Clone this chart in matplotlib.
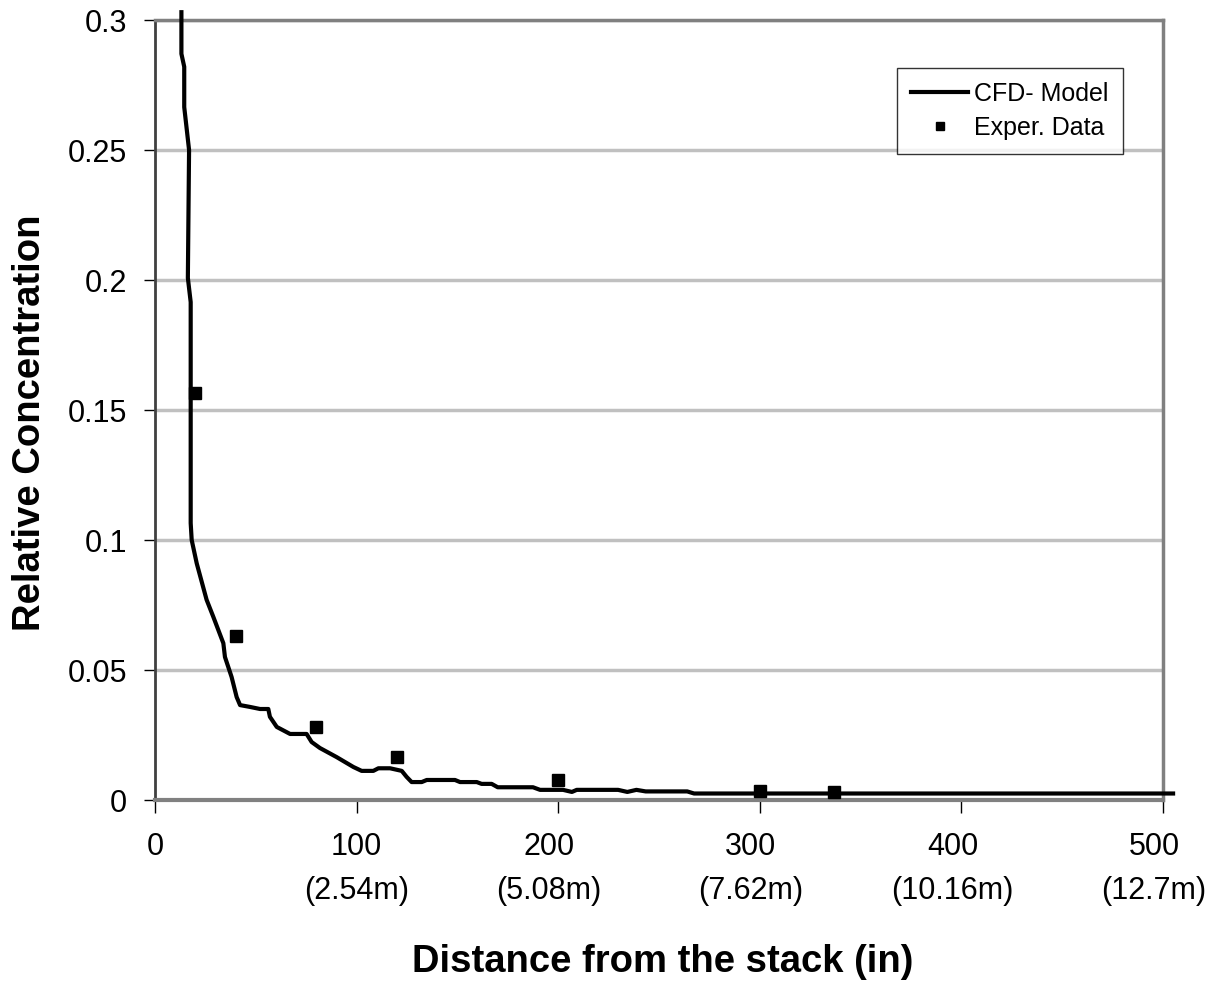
import matplotlib
matplotlib.use("Agg")
import matplotlib.pyplot as plt
from matplotlib.transforms import ScaledTranslation

plt.rcParams["font.family"] = ["Liberation Sans", "DejaVu Sans"]

# CFD model curve
cfd_x = [13.1, 13.1, 14.5, 14.5, 16.9, 16.3, 17.7, 17.7, 18.2, 20.7, 25.6, 28.9,
         33.9, 34.7, 38.0, 40.5, 42.2, 47.1, 52.1, 56.2, 57.0, 60.4, 67.0, 75.2,
         77.7, 81.8, 90.1, 98.4, 102.5, 108.3, 110.8, 116.6, 122.4, 124.8, 127.3,
         132.3, 134.8, 148.8, 151.3, 159.6, 162.0, 167.0, 170.0, 187.5, 191.0,
         202.4, 206.8, 209.2, 229.7, 234.3, 238.8, 243.4, 264.0, 267.4, 505.0]
cfd_y = [0.303, 0.287, 0.282, 0.2665, 0.250, 0.2008, 0.1915, 0.1065, 0.100, 0.091,
         0.077, 0.0705, 0.0603, 0.055, 0.0473, 0.0396, 0.0365, 0.0358, 0.035, 0.035,
         0.032, 0.0281, 0.0254, 0.0254, 0.0223, 0.020, 0.0165, 0.0127, 0.0112,
         0.0112, 0.0122, 0.0122, 0.0112, 0.0089, 0.0069, 0.0069, 0.0077, 0.0077,
         0.0069, 0.0069, 0.0062, 0.0062, 0.0049, 0.0049, 0.0039, 0.0039, 0.0031,
         0.0039, 0.0039, 0.0031, 0.0039, 0.0033, 0.0033, 0.0025, 0.0025]

# experimental points
exp_x = [20, 40, 80, 120, 200, 300, 337]
exp_y = [0.1565, 0.063, 0.028, 0.0165, 0.0077, 0.0035, 0.003]

x_ticks = [0, 100, 200, 300, 400, 500]
x_tick_labels = ["0", "100\n(2.54m)", "200\n(5.08m)", "300\n(7.62m)",
                 "400\n(10.16m)", "500\n(12.7m)"]
y_ticks = [0, 0.05, 0.1, 0.15, 0.2, 0.25, 0.3]
y_tick_labels = ["0", "0.05", "0.1", "0.15", "0.2", "0.25", "0.3"]

fig = plt.figure(figsize=(12.2, 9.92), dpi=100)
ax = fig.add_axes([155 / 1220, 192 / 992, 1008 / 1220, 780 / 992])

ax.set_xlim(0, 500)
ax.set_ylim(0, 0.3)
for yv in y_ticks[1:]:
    ax.axhline(yv, color="#c0c0c0", lw=2.5, zorder=1)

ax.plot(cfd_x, cfd_y, color="black", lw=3, label="CFD- Model", zorder=3,
        clip_on=False)
ax.plot(exp_x, exp_y, ls="none", marker="s", ms=8, color="black",
        label="Exper. Data", zorder=4)

ax.set_xticks(x_ticks)
ax.set_xticklabels(x_tick_labels, fontsize=22, linespacing=1.6, va="top")
ax.set_yticks(y_ticks)
ax.set_yticklabels(y_tick_labels, fontsize=22)
ax.tick_params(axis="x", direction="out", length=9, width=1, pad=14)
ax.tick_params(axis="y", direction="out", length=8, width=1, pad=12)

# labels from 200 on sit a little left of their ticks in the original
shift = ScaledTranslation(-9 / 100, 0, fig.dpi_scale_trans)
for lab in ax.get_xticklabels()[2:]:
    lab.set_transform(lab.get_transform() + shift)

ax.spines["top"].set_color("#808080")
ax.spines["top"].set_linewidth(2.5)
ax.spines["right"].set_color("#808080")
ax.spines["right"].set_linewidth(2.5)
ax.spines["left"].set_color("#404040")
ax.spines["left"].set_linewidth(2)
ax.spines["bottom"].set_color("#808080")
ax.spines["bottom"].set_linewidth(3)

fig.text(663 / 1220, 1 - 962 / 992, "Distance from the stack (in)",
         fontsize=27.5, fontweight="bold", ha="center", va="center")
fig.text(30 / 1220, 1 - 423 / 992, "Relative Concentration",
         fontsize=27.5, fontweight="bold", ha="center", va="center",
         rotation=90)

leg = fig.legend(loc="upper left", bbox_to_anchor=(897 / 1220, 1 - 68 / 992),
                 fontsize=18, frameon=True, fancybox=False, edgecolor="black",
                 handlelength=2.3, handletextpad=0.25, borderpad=0.55,
                 labelspacing=0.4, markerscale=0.8, borderaxespad=0)
leg.get_frame().set_linewidth(1)

fig.savefig("out.png", dpi=100)
